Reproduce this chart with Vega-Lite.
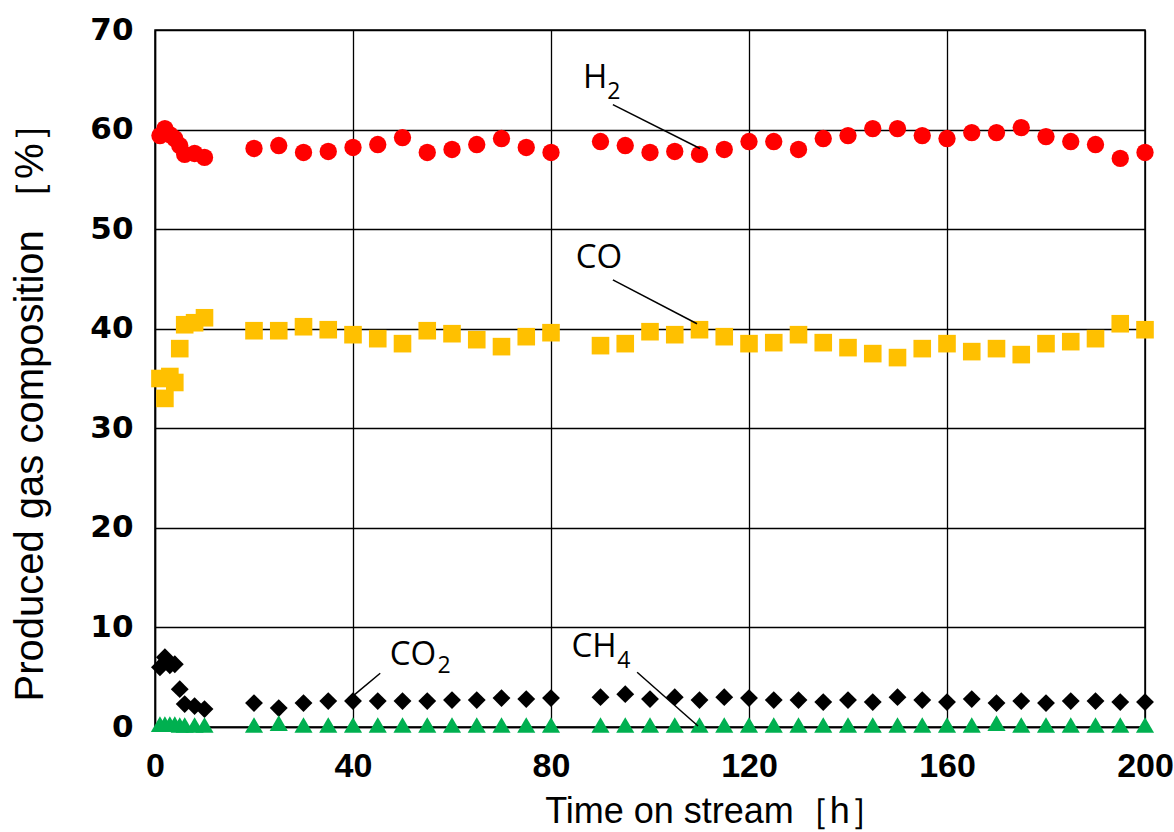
{
  "$schema": "https://vega.github.io/schema/vega-lite/v6.json",
  "width": 990,
  "height": 697,
  "autosize": {"type": "none"},
  "padding": {"left": 155, "top": 30, "right": 29, "bottom": 105},
  "background": "white",
  "config": {
    "view": {"stroke": "black", "strokeWidth": 1.5},
    "axis": {"grid": true, "gridColor": "black", "gridOpacity": 1, "gridWidth": 1.3, "domainColor": "black", "domainWidth": 1.5, "ticks": false}
  },
  "datasets": {
    "pts": [
      {"t": 1, "v": 59.4, "gas": "H2"}, {"t": 2, "v": 60.1, "gas": "H2"}, {"t": 3, "v": 59.5, "gas": "H2"}, {"t": 4, "v": 59.1, "gas": "H2"}, {"t": 5, "v": 58.4, "gas": "H2"}, {"t": 6, "v": 57.5, "gas": "H2"}, {"t": 8, "v": 57.6, "gas": "H2"}, {"t": 10, "v": 57.2, "gas": "H2"},
      {"t": 20, "v": 58.1, "gas": "H2"}, {"t": 25, "v": 58.4, "gas": "H2"}, {"t": 30, "v": 57.7, "gas": "H2"}, {"t": 35, "v": 57.8, "gas": "H2"}, {"t": 40, "v": 58.2, "gas": "H2"}, {"t": 45, "v": 58.5, "gas": "H2"}, {"t": 50, "v": 59.2, "gas": "H2"}, {"t": 55, "v": 57.7, "gas": "H2"},
      {"t": 60, "v": 58.0, "gas": "H2"}, {"t": 65, "v": 58.5, "gas": "H2"}, {"t": 70, "v": 59.1, "gas": "H2"}, {"t": 75, "v": 58.2, "gas": "H2"}, {"t": 80, "v": 57.7, "gas": "H2"}, {"t": 90, "v": 58.8, "gas": "H2"}, {"t": 95, "v": 58.4, "gas": "H2"}, {"t": 100, "v": 57.7, "gas": "H2"},
      {"t": 105, "v": 57.8, "gas": "H2"}, {"t": 110, "v": 57.5, "gas": "H2"}, {"t": 115, "v": 58.0, "gas": "H2"}, {"t": 120, "v": 58.8, "gas": "H2"}, {"t": 125, "v": 58.8, "gas": "H2"}, {"t": 130, "v": 58.0, "gas": "H2"}, {"t": 135, "v": 59.1, "gas": "H2"}, {"t": 140, "v": 59.4, "gas": "H2"},
      {"t": 145, "v": 60.1, "gas": "H2"}, {"t": 150, "v": 60.1, "gas": "H2"}, {"t": 155, "v": 59.4, "gas": "H2"}, {"t": 160, "v": 59.1, "gas": "H2"}, {"t": 165, "v": 59.7, "gas": "H2"}, {"t": 170, "v": 59.7, "gas": "H2"}, {"t": 175, "v": 60.2, "gas": "H2"}, {"t": 180, "v": 59.3, "gas": "H2"},
      {"t": 185, "v": 58.8, "gas": "H2"}, {"t": 190, "v": 58.5, "gas": "H2"}, {"t": 195, "v": 57.1, "gas": "H2"}, {"t": 200, "v": 57.7, "gas": "H2"},

      {"t": 1, "v": 35.0, "gas": "CO"}, {"t": 2, "v": 33.0, "gas": "CO"}, {"t": 3, "v": 35.2, "gas": "CO"}, {"t": 4, "v": 34.6, "gas": "CO"}, {"t": 5, "v": 38.0, "gas": "CO"}, {"t": 6, "v": 40.4, "gas": "CO"}, {"t": 8, "v": 40.6, "gas": "CO"}, {"t": 10, "v": 41.1, "gas": "CO"},
      {"t": 20, "v": 39.8, "gas": "CO"}, {"t": 25, "v": 39.8, "gas": "CO"}, {"t": 30, "v": 40.2, "gas": "CO"}, {"t": 35, "v": 39.9, "gas": "CO"}, {"t": 40, "v": 39.4, "gas": "CO"}, {"t": 45, "v": 39.0, "gas": "CO"}, {"t": 50, "v": 38.5, "gas": "CO"}, {"t": 55, "v": 39.8, "gas": "CO"},
      {"t": 60, "v": 39.5, "gas": "CO"}, {"t": 65, "v": 38.9, "gas": "CO"}, {"t": 70, "v": 38.2, "gas": "CO"}, {"t": 75, "v": 39.2, "gas": "CO"}, {"t": 80, "v": 39.6, "gas": "CO"}, {"t": 90, "v": 38.3, "gas": "CO"}, {"t": 95, "v": 38.5, "gas": "CO"}, {"t": 100, "v": 39.7, "gas": "CO"},
      {"t": 105, "v": 39.4, "gas": "CO"}, {"t": 110, "v": 39.9, "gas": "CO"}, {"t": 115, "v": 39.2, "gas": "CO"}, {"t": 120, "v": 38.5, "gas": "CO"}, {"t": 125, "v": 38.6, "gas": "CO"}, {"t": 130, "v": 39.4, "gas": "CO"}, {"t": 135, "v": 38.6, "gas": "CO"}, {"t": 140, "v": 38.1, "gas": "CO"},
      {"t": 145, "v": 37.5, "gas": "CO"}, {"t": 150, "v": 37.1, "gas": "CO"}, {"t": 155, "v": 38.0, "gas": "CO"}, {"t": 160, "v": 38.5, "gas": "CO"}, {"t": 165, "v": 37.7, "gas": "CO"}, {"t": 170, "v": 38.0, "gas": "CO"}, {"t": 175, "v": 37.4, "gas": "CO"}, {"t": 180, "v": 38.5, "gas": "CO"},
      {"t": 185, "v": 38.7, "gas": "CO"}, {"t": 190, "v": 39.0, "gas": "CO"}, {"t": 195, "v": 40.5, "gas": "CO"}, {"t": 200, "v": 39.9, "gas": "CO"},

      {"t": 1, "v": 6.0, "gas": "CO2"}, {"t": 2, "v": 7.0, "gas": "CO2"}, {"t": 3, "v": 6.2, "gas": "CO2"}, {"t": 4, "v": 6.3, "gas": "CO2"}, {"t": 5, "v": 3.8, "gas": "CO2"}, {"t": 6, "v": 2.3, "gas": "CO2"}, {"t": 8, "v": 2.1, "gas": "CO2"}, {"t": 10, "v": 1.8, "gas": "CO2"},
      {"t": 20, "v": 2.4, "gas": "CO2"}, {"t": 25, "v": 1.9, "gas": "CO2"}, {"t": 30, "v": 2.4, "gas": "CO2"}, {"t": 35, "v": 2.6, "gas": "CO2"}, {"t": 40, "v": 2.6, "gas": "CO2"}, {"t": 45, "v": 2.6, "gas": "CO2"}, {"t": 50, "v": 2.6, "gas": "CO2"}, {"t": 55, "v": 2.6, "gas": "CO2"},
      {"t": 60, "v": 2.7, "gas": "CO2"}, {"t": 65, "v": 2.7, "gas": "CO2"}, {"t": 70, "v": 2.9, "gas": "CO2"}, {"t": 75, "v": 2.8, "gas": "CO2"}, {"t": 80, "v": 2.9, "gas": "CO2"}, {"t": 90, "v": 3.0, "gas": "CO2"}, {"t": 95, "v": 3.3, "gas": "CO2"}, {"t": 100, "v": 2.8, "gas": "CO2"},
      {"t": 105, "v": 3.0, "gas": "CO2"}, {"t": 110, "v": 2.7, "gas": "CO2"}, {"t": 115, "v": 3.0, "gas": "CO2"}, {"t": 120, "v": 2.9, "gas": "CO2"}, {"t": 125, "v": 2.7, "gas": "CO2"}, {"t": 130, "v": 2.7, "gas": "CO2"}, {"t": 135, "v": 2.5, "gas": "CO2"}, {"t": 140, "v": 2.7, "gas": "CO2"},
      {"t": 145, "v": 2.5, "gas": "CO2"}, {"t": 150, "v": 3.0, "gas": "CO2"}, {"t": 155, "v": 2.7, "gas": "CO2"}, {"t": 160, "v": 2.5, "gas": "CO2"}, {"t": 165, "v": 2.8, "gas": "CO2"}, {"t": 170, "v": 2.4, "gas": "CO2"}, {"t": 175, "v": 2.6, "gas": "CO2"}, {"t": 180, "v": 2.4, "gas": "CO2"},
      {"t": 185, "v": 2.6, "gas": "CO2"}, {"t": 190, "v": 2.6, "gas": "CO2"}, {"t": 195, "v": 2.5, "gas": "CO2"}, {"t": 200, "v": 2.5, "gas": "CO2"},

      {"t": 1, "v": 0.3, "gas": "CH4"}, {"t": 2, "v": 0.3, "gas": "CH4"}, {"t": 3, "v": 0.3, "gas": "CH4"}, {"t": 4, "v": 0.3, "gas": "CH4"}, {"t": 5, "v": 0.2, "gas": "CH4"}, {"t": 6, "v": 0.2, "gas": "CH4"}, {"t": 8, "v": 0.2, "gas": "CH4"}, {"t": 10, "v": 0.2, "gas": "CH4"},
      {"t": 20, "v": 0.2, "gas": "CH4"}, {"t": 25, "v": 0.4, "gas": "CH4"}, {"t": 30, "v": 0.2, "gas": "CH4"}, {"t": 35, "v": 0.2, "gas": "CH4"}, {"t": 40, "v": 0.2, "gas": "CH4"}, {"t": 45, "v": 0.2, "gas": "CH4"}, {"t": 50, "v": 0.2, "gas": "CH4"}, {"t": 55, "v": 0.2, "gas": "CH4"},
      {"t": 60, "v": 0.2, "gas": "CH4"}, {"t": 65, "v": 0.2, "gas": "CH4"}, {"t": 70, "v": 0.2, "gas": "CH4"}, {"t": 75, "v": 0.2, "gas": "CH4"}, {"t": 80, "v": 0.2, "gas": "CH4"}, {"t": 90, "v": 0.2, "gas": "CH4"}, {"t": 95, "v": 0.2, "gas": "CH4"}, {"t": 100, "v": 0.2, "gas": "CH4"},
      {"t": 105, "v": 0.2, "gas": "CH4"}, {"t": 110, "v": 0.2, "gas": "CH4"}, {"t": 115, "v": 0.2, "gas": "CH4"}, {"t": 120, "v": 0.2, "gas": "CH4"}, {"t": 125, "v": 0.2, "gas": "CH4"}, {"t": 130, "v": 0.2, "gas": "CH4"}, {"t": 135, "v": 0.2, "gas": "CH4"}, {"t": 140, "v": 0.2, "gas": "CH4"},
      {"t": 145, "v": 0.2, "gas": "CH4"}, {"t": 150, "v": 0.2, "gas": "CH4"}, {"t": 155, "v": 0.2, "gas": "CH4"}, {"t": 160, "v": 0.2, "gas": "CH4"}, {"t": 165, "v": 0.2, "gas": "CH4"}, {"t": 170, "v": 0.4, "gas": "CH4"}, {"t": 175, "v": 0.2, "gas": "CH4"}, {"t": 180, "v": 0.2, "gas": "CH4"},
      {"t": 185, "v": 0.2, "gas": "CH4"}, {"t": 190, "v": 0.2, "gas": "CH4"}, {"t": 195, "v": 0.2, "gas": "CH4"}, {"t": 200, "v": 0.2, "gas": "CH4"}
    ],
    "labels": [
      {"t": 88.9, "v": 65.2, "text": "H", "kind": "main"},
      {"t": 92.7, "v": 63.8, "text": "2", "kind": "sub"},
      {"t": 89.7, "v": 47.1, "text": "CO", "kind": "main"},
      {"t": 52.1, "v": 7.2, "text": "CO", "kind": "main"},
      {"t": 58.4, "v": 6.1, "text": "2", "kind": "sub"},
      {"t": 88.7, "v": 8.0, "text": "CH", "kind": "main"},
      {"t": 94.7, "v": 6.6, "text": "4", "kind": "sub"}
    ],
    "leaders": [
      {"t1": 92.5, "v1": 62.5, "t2": 110.1, "v2": 58.1},
      {"t1": 92.5, "v1": 44.9, "t2": 109.5, "v2": 40.5},
      {"t1": 45.5, "v1": 5.4, "t2": 40.2, "v2": 3.2},
      {"t1": 97.4, "v1": 5.5, "t2": 109.7, "v2": 0.1}
    ]
  },
  "layer": [
    {
      "data": {"name": "pts"},
      "mark": {"type": "point", "filled": true, "opacity": 1, "clip": false},
      "encoding": {
        "x": {
          "field": "t", "type": "quantitative",
          "scale": {"domain": [0, 200], "nice": false, "zero": true},
          "axis": {
            "values": [0, 40, 80, 120, 160, 200],
            "title": "Time on stream［h］",
            "titleFont": "Liberation Sans", "titleFontSize": 36, "titleFontWeight": "normal", "titleColor": "black",
            "titleX": 560, "titleY": 95, "titleBaseline": "alphabetic", "titleAlign": "center",
            "labelFont": "Liberation Sans", "labelFontSize": 34, "labelFontWeight": "bold", "labelColor": "black",
            "labelPadding": 22, "labelFlush": false
          }
        },
        "y": {
          "field": "v", "type": "quantitative",
          "scale": {"domain": [0, 70], "nice": false},
          "axis": {
            "values": [0, 10, 20, 30, 40, 50, 60, 70],
            "title": "Produced gas composition ［%］",
            "titleFont": "Liberation Sans", "titleFontSize": 40, "titleFontWeight": "normal", "titleColor": "black",
            "titleAngle": -90, "titleX": -125, "titleY": 372, "titleBaseline": "middle", "titleAlign": "center",
            "labelFont": "DejaVu Sans", "labelFontSize": 31, "labelFontWeight": "bold", "labelColor": "black",
            "labelPadding": 22
          }
        },
        "color": {
          "field": "gas", "type": "nominal",
          "scale": {"domain": ["H2", "CO", "CO2", "CH4"], "range": ["#FF0000", "#FFC000", "#000000", "#00B050"]},
          "legend": null
        },
        "shape": {
          "field": "gas", "type": "nominal",
          "scale": {"domain": ["H2", "CO", "CO2", "CH4"], "range": ["circle", "square", "diamond", "triangle-up"]},
          "legend": null
        },
        "size": {
          "field": "gas", "type": "nominal",
          "scale": {"domain": ["H2", "CO", "CO2", "CH4"], "range": [300, 330, 300, 330]},
          "legend": null
        }
      }
    },
    {
      "data": {"name": "leaders"},
      "mark": {"type": "rule", "color": "black", "strokeWidth": 1.5},
      "encoding": {
        "x": {"field": "t1", "type": "quantitative"},
        "y": {"field": "v1", "type": "quantitative"},
        "x2": {"field": "t2"},
        "y2": {"field": "v2"}
      }
    },
    {
      "data": {"name": "labels"},
      "transform": [{"filter": "datum.kind == 'main'"}],
      "mark": {"type": "text", "font": "Open Sans", "fontSize": 33, "color": "black", "align": "center", "baseline": "middle"},
      "encoding": {
        "x": {"field": "t", "type": "quantitative"},
        "y": {"field": "v", "type": "quantitative"},
        "text": {"field": "text"}
      }
    },
    {
      "data": {"name": "labels"},
      "transform": [{"filter": "datum.kind == 'sub'"}],
      "mark": {"type": "text", "font": "Open Sans", "fontSize": 23, "color": "black", "align": "center", "baseline": "middle"},
      "encoding": {
        "x": {"field": "t", "type": "quantitative"},
        "y": {"field": "v", "type": "quantitative"},
        "text": {"field": "text"}
      }
    }
  ]
}
